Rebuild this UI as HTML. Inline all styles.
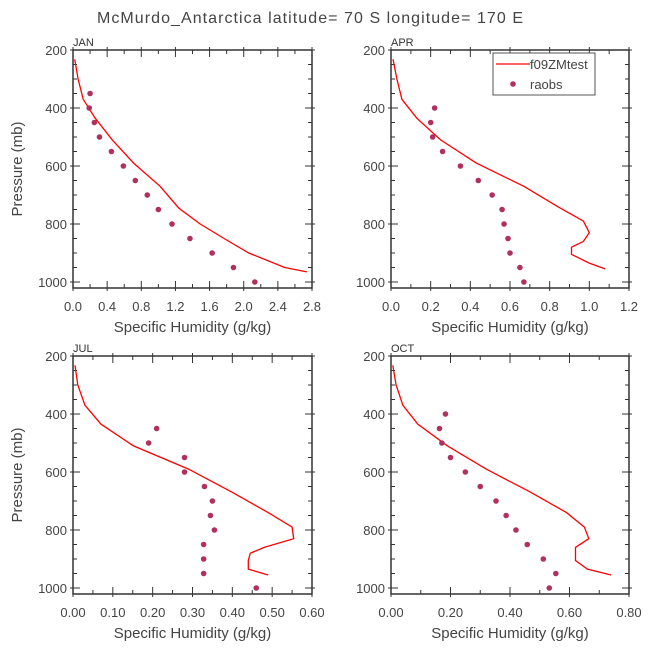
<!DOCTYPE html>
<html><head><meta charset="utf-8"><style>
html,body{margin:0;padding:0;background:#fff;}
svg{display:block;font-family:"Liberation Sans",sans-serif;}
</style></head><body>
<svg id="chart" width="648" height="648" viewBox="0 0 648 648" xmlns="http://www.w3.org/2000/svg">
<text x="97" y="23" font-size="16" fill="#444" textLength="426" lengthAdjust="spacing">McMurdo_Antarctica latitude= 70 S longitude= 170 E</text>
</svg>
<script>
const panelNames = ["JAN","APR","JUL","OCT"];
const modelP = [232,300,370,435,510,590,670,740,790,830,860,880,905,935,955];
const janModelP = [232,300,370,435,510,590,670,745,800,850,900,950,965];
const janModel = [0.02,0.06,0.12,0.26,0.46,0.71,1.02,1.24,1.49,1.77,2.06,2.48,2.74];
const aprModel = [0.01,0.03,0.055,0.13,0.25,0.43,0.67,0.84,0.97,1.0,0.97,0.91,0.91,1.0,1.08];
const julModel = [0.005,0.012,0.03,0.07,0.152,0.29,0.40,0.49,0.55,0.554,0.48,0.445,0.44,0.44,0.49];
const octModel = [0.006,0.017,0.04,0.09,0.19,0.32,0.47,0.59,0.65,0.665,0.62,0.62,0.62,0.66,0.74];
const janObsP = [350,400,450,500,550,600,650,700,750,800,850,900,950,1000];
const janObs = [0.2,0.19,0.25,0.31,0.45,0.59,0.73,0.87,1.0,1.16,1.37,1.63,1.88,2.13];
const aprObsP = [400,450,500,550,600,650,700,750,800,850,900,950,1000];
const aprObs = [0.22,0.2,0.21,0.26,0.35,0.44,0.51,0.56,0.57,0.59,0.6,0.65,0.67];
const julObsP = [450,500,550,600,650,700,750,800,850,900,950,1000];
const julObs = [0.21,0.19,0.28,0.28,0.33,0.35,0.345,0.355,0.328,0.328,0.328,0.46];
const octObsP = [400,450,500,550,600,650,700,750,800,850,900,950,1000];
const octObs = [0.183,0.163,0.171,0.2,0.25,0.3,0.353,0.387,0.42,0.458,0.512,0.554,0.532];
const janTicks = ["0.0","0.4","0.8","1.2","1.6","2.0","2.4","2.8"];
const aprTicks = ["0.0","0.2","0.4","0.6","0.8","1.0","1.2"];
const julTicks = ["0.00","0.10","0.20","0.30","0.40","0.50","0.60"];
const octTicks = ["0.00","0.20","0.40","0.60","0.80"];
const yTicks = [200,400,600,800,1000];

const NS="http://www.w3.org/2000/svg";
const svg=document.getElementById('chart');
function mk(tag,attrs,parent){const e=document.createElementNS(NS,tag);for(const k in attrs)e.setAttribute(k,attrs[k]);(parent||svg).appendChild(e);return e;}

const panels=[
 {name:panelNames[0],L:73,R:312,T:50,B:288,mP:janModelP,m:janModel,oP:janObsP,o:janObs,ticks:janTicks,minor:2,ytitle:true,legend:false},
 {name:panelNames[1],L:391,R:629,T:50,B:288,mP:modelP,m:aprModel,oP:aprObsP,o:aprObs,ticks:aprTicks,minor:2,ytitle:false,legend:true},
 {name:panelNames[2],L:73,R:312,T:356,B:594,mP:modelP,m:julModel,oP:julObsP,o:julObs,ticks:julTicks,minor:2,ytitle:true,legend:false},
 {name:panelNames[3],L:391,R:629,T:356,B:594,mP:modelP,m:octModel,oP:octObsP,o:octObs,ticks:octTicks,minor:2,ytitle:false,legend:false}
];

panels.forEach(p=>{
  const g=mk('g',{});
  
  
  const xmax=parseFloat(p.ticks[p.ticks.length-1]);
  const yTop=p.T, y1000=p.B-6;
  const X=v=>p.L+v/xmax*(p.R-p.L);
  const Y=v=>yTop+(v-200)/800*(y1000-yTop);
  const fr=mk('rect',{x:p.L,y:p.T,width:p.R-p.L,height:p.B-p.T,fill:'none',stroke:'#333','stroke-width':1.5},g);
  
  
  for(let v=200;v<=1000;v+=50){
    const major=v%200===0;const len=major?7:4;const y=Y(v);
    mk('line',{x1:p.L-(major?3:0),x2:p.L+len,y1:y,y2:y,stroke:'#333','stroke-width':1},g);
    mk('line',{x1:p.R+(major?3:0),x2:p.R-len,y1:y,y2:y,stroke:'#333','stroke-width':1},g);
  }
  yTicks.forEach(v=>{
    const t=mk('text',{x:p.L-6,y:Y(v)+5,'text-anchor':'end','font-size':13,fill:'#444'},g);
    t.textContent=v;
    
    
  });
  const n=p.ticks.length-1;
  for(let i=0;i<=n*p.minor;i++){
    const major=i%p.minor===0;const len=major?7:4;const x=p.L+i/(n*p.minor)*(p.R-p.L);
    mk('line',{x1:x,x2:x,y1:p.B+(major?3:0),y2:p.B-len,stroke:'#333','stroke-width':1},g);
    mk('line',{x1:x,x2:x,y1:p.T-(major?3:0),y2:p.T+len,stroke:'#333','stroke-width':1},g);
  }
  p.ticks.forEach(s=>{
    const t=mk('text',{x:X(parseFloat(s)),y:p.B+23,'text-anchor':'middle','font-size':13,fill:'#444'},g);
    t.textContent=s;
    
    
  });
  const xt=mk('text',{x:(p.L+p.R)/2,y:p.B+44,'text-anchor':'middle','font-size':15,fill:'#444'},g);
  xt.textContent='Specific Humidity (g/kg)';
  
  
  if(p.ytitle){
    const yc=(p.T+p.B)/2;
    const yt=mk('text',{x:22,y:yc,'text-anchor':'middle','font-size':15,fill:'#444',transform:`rotate(-90 22 ${yc})`},g);
    yt.textContent='Pressure (mb)';
    
    
  }
  const pt=mk('text',{x:p.L,y:p.T-4,'font-size':11,fill:'#333'},g);
  pt.textContent=p.name;
  
  
  const d=p.m.map((v,i)=>(i?'L':'M')+X(v).toFixed(1)+','+Y(p.mP[i]).toFixed(1)).join(' ');
  const ln=mk('path',{d:d,fill:'none',stroke:'#ff0000','stroke-width':1.3},g);
  
  
  p.o.forEach((v,i)=>{
    const c=mk('circle',{cx:X(v),cy:Y(p.oP[i]),r:2.8,fill:'#b03060'},g);
    
    
  });
  if(p.legend){
    const lg=mk('g',{},g);
    
    
    mk('rect',{x:493,y:53,width:102,height:42,fill:'#fff',stroke:'#555','stroke-width':1},lg);
    mk('line',{x1:496,x2:530,y1:64,y2:64,stroke:'#ff0000','stroke-width':1.3},lg);
    const t1=mk('text',{x:530,y:69,'font-size':13,fill:'#444'},lg);t1.textContent='f09ZMtest';
    
    
    mk('circle',{cx:513,cy:84,r:2.8,fill:'#b03060'},lg);
    const t2=mk('text',{x:530,y:89,'font-size':13,fill:'#444'},lg);t2.textContent='raobs';
    
    
  }
});
</script>
</body></html>
